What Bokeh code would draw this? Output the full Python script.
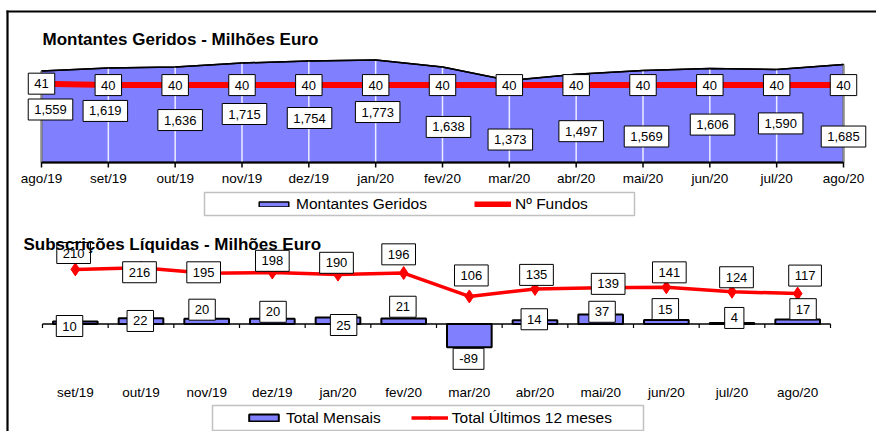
from bokeh.plotting import figure
from bokeh.models import Range1d, Label, Legend, LegendItem, BoxAnnotation
from bokeh.core.properties import value
from bokeh.embed import file_html
from bokeh.resources import INLINE

FONT = "Liberation Sans"

# ---------------- data: Montantes Geridos ----------------
months_top = ["ago/19", "set/19", "out/19", "nov/19", "dez/19", "jan/20", "fev/20",
              "mar/20", "abr/20", "mai/20", "jun/20", "jul/20", "ago/20"]
montantes = [1559, 1619, 1636, 1715, 1754, 1773, 1638, 1373, 1497, 1569, 1606, 1590, 1685]
n_fundos = [41, 40, 40, 40, 40, 40, 40, 40, 40, 40, 40, 40, 40]

# ---------------- data: Subscrições Líquidas ----------------
months_bot = ["set/19", "out/19", "nov/19", "dez/19", "jan/20", "fev/20",
              "mar/20", "abr/20", "mai/20", "jun/20", "jul/20", "ago/20"]
total_mensais = [10, 22, 20, 20, 25, 21, -89, 14, 37, 15, 4, 17]
total_12m = [210, 216, 195, 198, 190, 196, 106, 135, 139, 141, 124, 117]

# ---------------- label placement (pixel offsets, style only) ----------------
mg_dx = [9, -3, 5, 2.5, 0.7, 2, 6, 1, 5, 3.5, 2.7, 4, 0]
mg_dy = [38.5, 43, 53, 51, 57, 52, 60, 59, 57, 66, 56, 54, 72]
tm_dx = [-5.8, -0.7, -4.6, 0.7, 5.6, -0.8, -0.8, -0.7, 1.4, -1, 2.3, 5.4]
tm_dy = [4.6, 2.7, -9.1, -7, 7.5, -11.8, 11.7, -1.1, -2.6, -11, -5, -10.4]
t12_dx = [-1.7, -1.5, -3, 0, -1.5, -5, 2, 1.5, 7.5, 3, 4.5, 7.4]
t12_dy = [-16.4, 4.4, -1, -11.7, -11.8, -18.7, -21, -14, -4, -15, -14.5, -18]

BLUE = "#8080FF"
RED = "#FF0000"
W, H = 876, 431

# ---------------- layout geometry (pixels) ----------------
TX0, TX1 = 41, 843                       # top chart: first / last month x
T_AXIS_PX = 162                          # top chart: category axis y
T_ZERO_PX, T_K = 150.4, 0.05125          # px of value 0, px per unit
NF_LO, NF_HI, NF_LO_PX, NF_HI_PX = -15, 66, 162, 48
BX0, BX1 = 42, 830                       # bottom chart: category band edges
B_ZERO_PX, B_K = 323.5, 0.26             # bottom chart: zero line, px per unit

n_top = len(months_top)
n_bot = len(months_bot)
sx_t = (TX1 - TX0) / (n_top - 1)
sx_b = (BX1 - BX0) / n_bot


def tx(px):
    return (px - TX0) / sx_t


def ty(py):
    return (T_ZERO_PX - py) / T_K


def by(py):
    return (B_ZERO_PX - py) / B_K


nf_k = (NF_LO_PX - NF_HI_PX) / (NF_HI - NF_LO)

p = figure(width=W, height=H, toolbar_location=None, output_backend="svg",
           x_axis_location=None, y_axis_location=None,
           min_border=0, min_border_left=0, min_border_right=0,
           min_border_top=0, min_border_bottom=0, outline_line_color=None,
           x_range=Range1d(tx(0), tx(W)), y_range=Range1d(ty(H), ty(0)))
p.extra_y_ranges = {
    "nf": Range1d(NF_LO - (H - NF_LO_PX) / nf_k, NF_LO + NF_LO_PX / nf_k),
    "bot": Range1d(by(H), by(0)),
}
p.extra_x_ranges = {"bot": Range1d(-0.5 - BX0 / sx_b, n_bot - 0.5 + (W - BX1) / sx_b)}
p.grid.visible = False


def box_label(x, y, txt, dx=0, dy=0, xr="default", yr="default"):
    p.add_layout(Label(x=x, y=y, text=txt, x_offset=dx, y_offset=-dy,
                       text_align="center", text_baseline="middle",
                       text_font=FONT, text_font_size="13px", text_color="black",
                       background_fill_color="white", border_line_color="black",
                       border_line_width=1, padding=(6, 6),
                       x_range_name=xr, y_range_name=yr))


# ================= outer frame (top and left edges) =================
p.segment(x0=tx(6), y0=ty(11), x1=tx(W + 20), y1=ty(11), line_color="black", line_width=2.2)
p.segment(x0=tx(7), y0=ty(10), x1=tx(7), y1=ty(H + 20), line_color="black", line_width=2.2)

# ================= top chart =================
xi = list(range(n_top))
base = ty(T_AXIS_PX)
area = p.patch(x=[xi[0]] + xi + [xi[-1]], y=[base] + montantes + [base],
               fill_color=BLUE, line_color="black", line_width=1.5)
p.segment(x0=xi[1:-1], y0=base, x1=xi[1:-1], y1=montantes[1:-1],
          line_color="white", line_width=1.5, line_alpha=0.85)
p.segment(x0=[xi[0], xi[-1]], y0=base, x1=[xi[0], xi[-1]],
          y1=[montantes[0], montantes[-1]], line_color="#8c8c8c", line_width=2)
p.line(xi, montantes, line_color="black", line_width=1.5)
nf_r = p.line(xi, n_fundos, line_color=RED, line_width=6, y_range_name="nf")
# axis line, ticks, tick labels
p.segment(x0=xi[0], y0=base, x1=xi[-1], y1=base, line_color="black", line_width=2)
p.segment(x0=xi, y0=base, x1=xi, y1=ty(T_AXIS_PX + 5), line_color="black", line_width=1.5)
p.text(x=xi, y=[ty(177.7)] * n_top, text=months_top, text_align="center",
       text_baseline="middle", text_font=value(FONT), text_font_size="13.5px",
       text_color="black")

# ================= bottom chart =================
xb = list(range(n_bot))
bars = p.vbar(x=xb, top=total_mensais, bottom=0, width=0.68, fill_color=BLUE,
              line_color="black", line_width=2, x_range_name="bot", y_range_name="bot")
p.segment(x0=-0.5, y0=0, x1=n_bot - 0.5, y1=0, line_color="black", line_width=1.5,
          x_range_name="bot", y_range_name="bot")
edges = [i - 0.5 for i in range(n_bot + 1)]
p.segment(x0=edges, y0=0, x1=edges, y1=by(B_ZERO_PX + 4), line_color="black",
          line_width=1.2, x_range_name="bot", y_range_name="bot")
l12 = p.line(xb, total_12m, line_color=RED, line_width=3.5,
             x_range_name="bot", y_range_name="bot")
s12 = p.scatter(xb, total_12m, marker="diamond", size=13, color=RED,
                x_range_name="bot", y_range_name="bot")
p.text(x=xb, y=[by(391.7)] * n_bot, text=months_bot, text_align="center",
       text_baseline="middle", text_font=value(FONT), text_font_size="13.5px",
       text_color="black", x_range_name="bot", y_range_name="bot")

# ================= data labels =================
for i, v in enumerate(montantes):
    box_label(i, v, f"{v:,}", mg_dx[i], mg_dy[i])
for i, v in enumerate(n_fundos):
    box_label(i, v, str(v), 0, 0, yr="nf")
for i, v in enumerate(total_mensais):
    box_label(i, v, str(v), tm_dx[i], tm_dy[i], xr="bot", yr="bot")
for i, v in enumerate(total_12m):
    box_label(i, v, str(v), t12_dx[i], t12_dy[i], xr="bot", yr="bot")


# ================= legends, titles =================
def sbox(left, top, right, bottom, color, width):
    p.add_layout(BoxAnnotation(left=left, right=right, top=H - top, bottom=H - bottom,
                               left_units="screen", right_units="screen",
                               top_units="screen", bottom_units="screen",
                               fill_color=None, line_color=color, line_width=width))


sbox(204, 192, 634, 215, "#333333", 1.5)
sbox(212, 405, 643, 430, "#333333", 1.5)

leg_common = dict(orientation="horizontal", padding=0, margin=0, glyph_width=37,
                  label_standoff=4, label_height=20, label_text_font=FONT,
                  label_text_font_size="15.5px", label_text_color="black",
                  border_line_color=None, background_fill_alpha=0)
leg1 = Legend(items=[LegendItem(label=value("Montantes Geridos"), renderers=[area]),
                     LegendItem(label=value("Nº Fundos"), renderers=[nf_r])],
              location=(255, H - 213.7), spacing=47, glyph_height=6, **leg_common)
leg2 = Legend(items=[LegendItem(label=value("Total Mensais"), renderers=[bars]),
                     LegendItem(label=value("Total Últimos 12 meses"), renderers=[l12, s12])],
              location=(245, H - 427.5), spacing=30, glyph_height=9, **leg_common)
p.add_layout(leg1)
p.add_layout(leg2)

title_common = dict(x_units="screen", y_units="screen", text_font=FONT,
                    text_font_style="bold", text_font_size="17px",
                    text_baseline="alphabetic", text_color="black")
p.add_layout(Label(x=42, y=H - 38.7, text="Montantes Geridos - Milhões Euro", **title_common))
p.add_layout(Label(x=23, y=H - 244.3, text="Subscrições Líquidas - Milhões Euro", **title_common))

open("out.html", "w").write(file_html(p, INLINE))
